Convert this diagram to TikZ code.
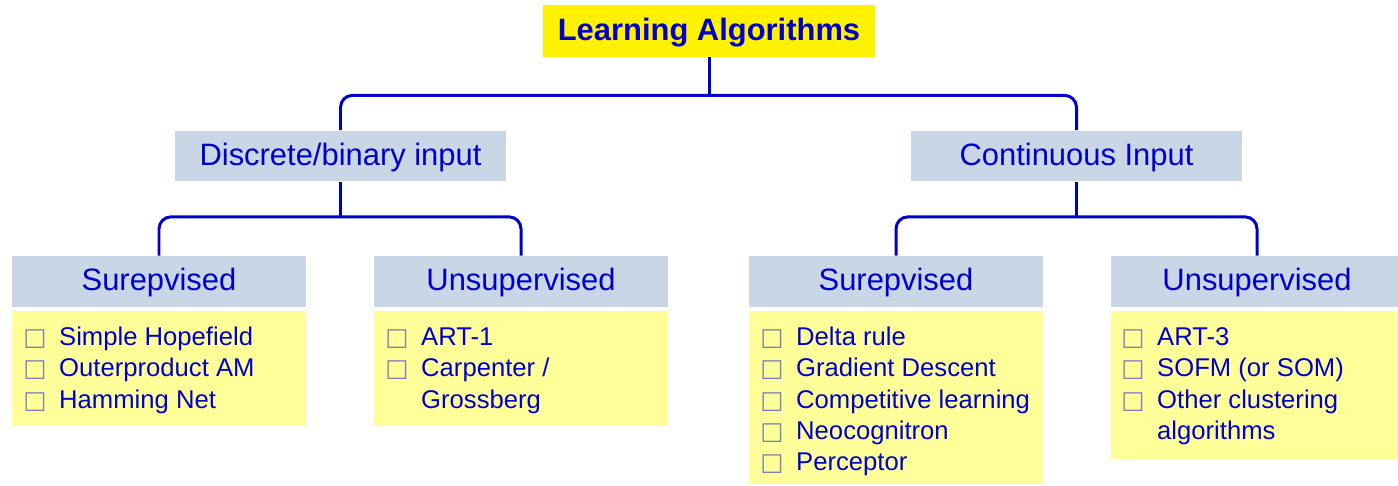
\documentclass[tikz,border=0pt]{standalone}
\usepackage{fontspec}
\setmainfont{Liberation Sans}
\newfontfamily\bulfont{DejaVu Sans}
\usepackage{tikz}
\usetikzlibrary{positioning}

\definecolor{txtblue}{RGB}{0,0,204}
\definecolor{hdrgray}{RGB}{201,214,229}
\definecolor{lstyellow}{RGB}{255,255,153}
\definecolor{bulgray}{RGB}{128,128,176}
\newcommand{\algitem}[1]{\makebox[20.4pt][l]{\bulfont\color{bulgray}\fontsize{14}{14}\selectfont □}\strut #1}

\begin{document}
\begin{tikzpicture}[x=0.02cm,y=-0.02cm,
    hdr/.style={fill=hdrgray,text=txtblue,inner sep=0pt,minimum height=1.02cm,
      text height=0.48cm,text depth=0.1cm,font=\fontsize{17.6}{21}\selectfont},
    lstbox/.style={fill=lstyellow,inner sep=0pt,minimum width=5.88cm},
    lst/.style={text=txtblue,align=left,inner sep=0pt,anchor=north west,
      font=\fontsize{14.6}{17.86}\selectfont},
    conn/.style={draw=txtblue,line width=1.7pt,rounded corners=0.24cm}]
      \useasboundingbox (0,0) rectangle (1398,486);
      % top level
      \node[fill=yellow,text=txtblue,inner sep=0pt,minimum width=6.64cm,minimum height=1.04cm,
        text height=0.48cm,text depth=0.1cm,font=\fontsize{17.6}{21}\selectfont\bfseries] (title) at (709,31) {Learning Algorithms};
      \node[hdr,minimum width=6.62cm] (disc) at (340.5,156) {Discrete/binary input};
      \node[hdr,minimum width=6.62cm] (cont) at (1076.5,156) {Continuous Input};
      % second level
      \node[hdr,minimum width=5.88cm] (sup1) at (159,281.5) {Surepvised};
      \node[hdr,minimum width=5.88cm] (uns1) at (521,281.5) {Unsupervised};
      \node[hdr,minimum width=5.88cm] (sup2) at (896,281.5) {Surepvised};
      \node[hdr,minimum width=5.84cm] (uns2) at (1257,281.5) {Unsupervised};
      % lists
      \node[lstbox,minimum height=2.30cm] (box1) at (159,368.5) {};
      \node[lstbox,minimum height=2.30cm] (box2) at (521,368.5) {};
      \node[lstbox,minimum height=3.46cm] (box3) at (896,397.5) {};
      \node[lstbox,minimum height=2.96cm,minimum width=5.84cm] (box4) at (1257,385) {};
      \node[lst] (list1) at (23,323) {\algitem{Simple Hopefield}\\ \algitem{Outerproduct AM}\\
        \algitem{Hamming Net}};
      \node[lst] (list2) at (385,323) {\algitem{ART-1}\\ \algitem{Carpenter /}\\
        \hspace*{20.4pt}\strut Grossberg};
      \node[lst] (list3) at (760,323) {\algitem{Delta rule}\\ \algitem{Gradient Descent}\\
        \algitem{Competitive learning}\\ \algitem{Neocognitron}\\ \algitem{Perceptor}};
      \node[lst] (list4) at (1121,323) {\algitem{ART-3}\\ \algitem{SOFM (or SOM)}\\
        \algitem{Other clustering}\\ \hspace*{20.4pt}\strut algorithms};
      % connectors
      \draw[conn] (title.south) -- ++(0,38) coordinate (j1);
      \draw[conn] (disc.north) |- (j1) -| (cont.north);
      \draw[conn] (disc.south) -- ++(0,35) coordinate (j2);
      \draw[conn] (sup1.north) |- (j2) -| (uns1.north);
      \draw[conn] (cont.south) -- ++(0,35) coordinate (j3);
      \draw[conn] (sup2.north) |- (j3) -| (uns2.north);
\end{tikzpicture}
\end{document}
